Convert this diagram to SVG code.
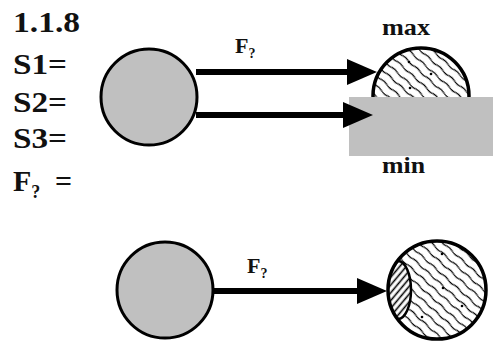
<svg xmlns="http://www.w3.org/2000/svg" width="493" height="344" viewBox="0 0 493 344">
<style>
.t{font-family:"Liberation Serif","Times New Roman",serif;font-weight:bold;fill:#111}
.big{font-size:30px}
.lbl{font-size:22px}
.sm{font-size:24px}
.ball{fill:#c0c0c0;stroke:#000;stroke-width:3}
.hatch{fill:url(#wavy);stroke:#000;stroke-width:3.5}
.conn{stroke:#000;stroke-width:6;fill:none;marker-end:url(#head)}
</style>
<defs>
<marker id="head" markerUnits="userSpaceOnUse" markerWidth="31" markerHeight="28" refX="0" refY="14" orient="auto">
<path d="M0,1 L30,14 L0,27 z" fill="#000"/>
</marker>
<pattern id="wavy" patternUnits="userSpaceOnUse" width="16" height="8" patternTransform="rotate(42)">
<rect width="16" height="8" fill="#fff"/>
<path d="M0,4 q4,-1.4 8,0 t8,0" fill="none" stroke="#000" stroke-width="1.2"/>
</pattern>
<pattern id="straight" patternUnits="userSpaceOnUse" width="8" height="5" patternTransform="rotate(-50)">
<rect width="8" height="5" fill="#fff"/>
<line x1="0" y1="2.5" x2="8" y2="2.5" stroke="#000" stroke-width="1.6"/>
</pattern>
<clipPath id="bigclip"><circle cx="437" cy="290" r="49"/></clipPath>
</defs>

<g id="labels">
<text class="t big" x="13" y="32" textLength="67" lengthAdjust="spacingAndGlyphs">1.1.8</text>
<text class="t big" x="13" y="74" textLength="54" lengthAdjust="spacingAndGlyphs">S1=</text>
<text class="t big" x="13" y="112" textLength="54" lengthAdjust="spacingAndGlyphs">S2=</text>
<text class="t big" x="13" y="148" textLength="54" lengthAdjust="spacingAndGlyphs">S3=</text>
<text class="t big" x="13" y="191">F<tspan font-size="18" dy="7">?</tspan><tspan dy="-7" x="55">=</tspan></text>
</g>

<g id="target-top">
<circle class="hatch" cx="421" cy="96" r="48"/>
<circle cx="409" cy="62" r="1.3"/><circle cx="431" cy="74" r="1.3"/><circle cx="410" cy="88" r="1.3"/>
<text class="t sm" x="382" y="35" textLength="48" lengthAdjust="spacingAndGlyphs">max</text>
</g>

<g id="wall">
<rect x="349" y="97" width="144" height="59" fill="#c0c0c0"/>
<text class="t sm" x="382" y="173" textLength="43" lengthAdjust="spacingAndGlyphs">min</text>
</g>

<g id="target-bottom">
<circle cx="437" cy="290" r="49" fill="url(#wavy)"/>
<ellipse cx="398" cy="290" rx="13" ry="29" fill="url(#straight)" stroke="#000" stroke-width="2.5" clip-path="url(#bigclip)"/>
<circle cx="437" cy="290" r="49" fill="none" stroke="#000" stroke-width="3.5"/>
<circle cx="442" cy="254" r="1.3"/><circle cx="443" cy="288" r="1.3"/><circle cx="462" cy="306" r="1.3"/><circle cx="422" cy="317" r="1.3"/>
</g>

<g id="connectors">
<line class="conn" x1="196" y1="72" x2="347" y2="72"/>
<line class="conn" x1="196" y1="115" x2="343" y2="115"/>
<line class="conn" x1="213" y1="291" x2="357" y2="291"/>
<text class="t lbl" x="235" y="53">F<tspan font-size="14" dy="5">?</tspan></text>
<text class="t lbl" x="247" y="273">F<tspan font-size="14" dy="5">?</tspan></text>
</g>

<g id="ball-top">
<circle class="ball" cx="149" cy="97" r="48"/>
</g>
<g id="ball-bottom">
<circle class="ball" cx="165" cy="290" r="48"/>
</g>
</svg>
